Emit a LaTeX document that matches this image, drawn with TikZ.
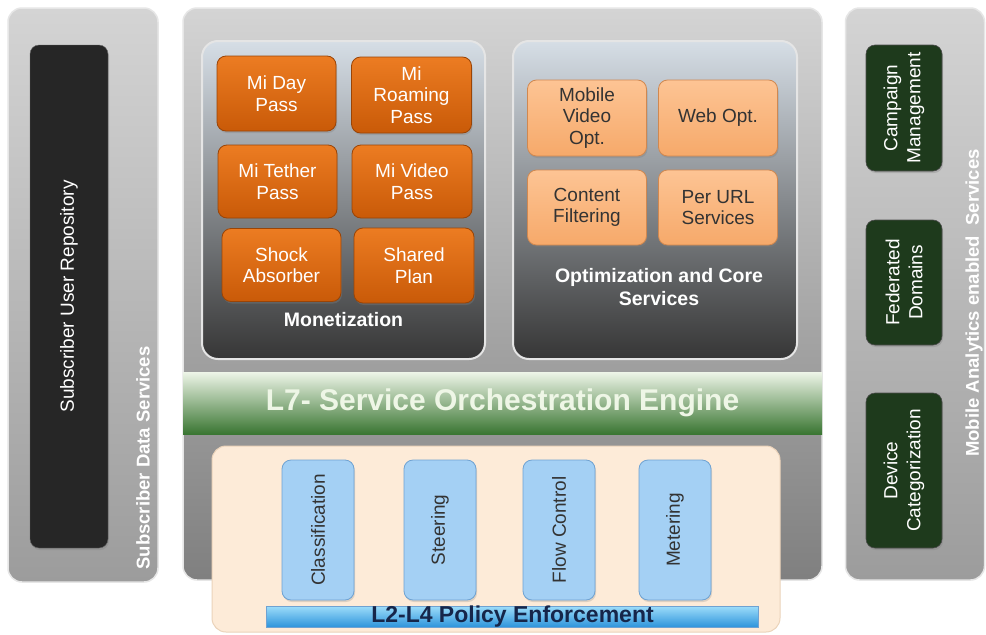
\documentclass[tikz,border=0pt]{standalone}
\usepackage{fontspec}
\setmainfont{Liberation Sans}
\usetikzlibrary{shadows}
\definecolor{panelT}{HTML}{D4D4D4}
\definecolor{panelB}{HTML}{9C9C9C}
\definecolor{panelE}{HTML}{E6E6E6}
\definecolor{darkbox}{HTML}{262626}
\definecolor{grpT}{HTML}{D6DEE6}
\definecolor{grpM}{HTML}{8E949A}
\definecolor{grpB}{HTML}{363636}
\definecolor{orT}{HTML}{EC7C22}
\definecolor{orB}{HTML}{C95A08}
\definecolor{orD}{HTML}{9A4406}
\definecolor{lorT}{HTML}{FDC494}
\definecolor{lorB}{HTML}{F6A96A}
\definecolor{lorD}{HTML}{D08850}
\definecolor{grnT}{HTML}{EEF5E8}
\definecolor{grnM}{HTML}{8CB482}
\definecolor{grnB}{HTML}{3A7632}
\definecolor{grnText}{HTML}{EEF6E6}
\definecolor{beige}{HTML}{FDEBD8}
\definecolor{beigeD}{HTML}{EBD3BA}
\definecolor{bluebox}{HTML}{A4D0F4}
\definecolor{blueD}{HTML}{6FA2D2}
\definecolor{barT}{HTML}{9CDCFA}
\definecolor{barB}{HTML}{2A92DA}
\definecolor{barText}{HTML}{16264A}
\definecolor{dgreen}{HTML}{1E3A1C}
\definecolor{txtdark}{HTML}{333333}
\begin{document}
\begin{tikzpicture}[x=1pt,y=-1pt,
  panel/.style={rounded corners=14pt, draw=panelE, line width=1.5pt, top color=panelT, bottom color=panelB, minimum width=#1},
  group/.style={rounded corners=16pt, draw=white!80!gray, line width=2pt, top color=grpT, middle color=grpM, bottom color=grpB},
  orbox/.style={rounded corners=9pt, top color=orT, bottom color=orB, draw=orD, line width=0.8pt, text=white, align=center,
    inner sep=1pt, font=\fontsize{19}{21.5}\selectfont, drop shadow={opacity=0.35, shadow xshift=1pt, shadow yshift=-2pt}},
  lorbox/.style={rounded corners=9pt, top color=lorT, bottom color=lorB, draw=lorD, line width=0.8pt, text=txtdark, align=center,
    inner sep=1pt, font=\fontsize{19}{21.5}\selectfont, drop shadow={opacity=0.35, shadow xshift=1pt, shadow yshift=-2pt}},
  bluebx/.style={rounded corners=9pt, fill=bluebox, draw=blueD, line width=0.8pt, minimum width=72pt, minimum height=140pt,
    drop shadow={opacity=0.25, shadow xshift=1pt, shadow yshift=-2pt}},
  dgbox/.style={rounded corners=9pt, fill=dgreen, draw=black!70, line width=0.6pt, minimum width=76pt,
    drop shadow={opacity=0.35, shadow xshift=1pt, shadow yshift=-2pt}},
  rotw/.style={rotate=90, text=white, align=center, font=\fontsize{19}{23}\selectfont},
  rotd/.style={rotate=90, text=txtdark, align=center, font=\fontsize{19}{23}\selectfont},
  grplabel/.style={text=white, align=center, font=\bfseries\fontsize{19.5}{23}\selectfont},
  sidelabel/.style={rotate=90, text=white, font=\bfseries\fontsize{18.5}{21}\selectfont}
]
\useasboundingbox (0,0) rectangle (986,635);
\fill[white] (0,0) rectangle (986,635);

% ---------- left panel ----------
\node[panel=150pt, minimum height=574pt] (left) at (83,295) {};
\node[rounded corners=9pt, fill=darkbox, draw=black!60, minimum width=78pt, minimum height=503pt,
  drop shadow={opacity=0.35, shadow xshift=1pt, shadow yshift=-2pt}] (sur) at (69,296.5) {};
\node[rotw] (surT) at (sur.center) {Subscriber User Repository};
\node[sidelabel] (sds) at (143,458) {Subscriber Data Services};

% ---------- middle panel ----------
\node[panel=639pt, minimum height=572pt, bottom color=black!50] (mid) at (502.5,294) {};

\node[group, minimum width=283pt, minimum height=318pt] (mon) at (343.5,200) {};
\node[group, minimum width=284pt, minimum height=318pt] (opt) at (655,200) {};

\node[orbox, minimum width=119pt, minimum height=75pt] (day) at (276.5,93.5) {Mi Day\\Pass};
\node[orbox, minimum width=120pt, minimum height=76pt] (roam) at (411.5,95) {Mi\\Roaming\\Pass};
\node[orbox, minimum width=119pt, minimum height=73pt] (teth) at (277.5,181.5) {Mi Tether\\Pass};
\node[orbox, minimum width=120pt, minimum height=73pt] (vid) at (412,181.5) {Mi Video\\Pass};
\node[orbox, minimum width=119pt, minimum height=73pt] (shock) at (281.5,265) {Shock\\Absorber};
\node[orbox, minimum width=120pt, minimum height=75pt] (shared) at (414,265.5) {Shared\\Plan};
\node[grplabel] (monT) at (343.5,320) {Monetization};

\node[lorbox, minimum width=119pt, minimum height=76pt] (mvo) at (587,118) {Mobile\\Video\\Opt.};
\node[lorbox, minimum width=119pt, minimum height=76pt] (web) at (718,118) {Web Opt.};
\node[lorbox, minimum width=119pt, minimum height=75pt] (cf) at (587,207.5) {Content\\Filtering};
\node[lorbox, minimum width=119pt, minimum height=75pt] (url) at (718,207.5) {Per URL\\Services};
\node[grplabel] (optT) at (659,287) {Optimization and Core\\Services};

% ---------- L7 bar ----------
\node[top color=grnT, middle color=grnM, bottom color=grnB, minimum width=639pt, minimum height=62pt,
  text=grnText, font=\bfseries\fontsize{30}{34}\selectfont] (l7) at (502.5,403) {L7- Service Orchestration Engine};

% ---------- L2-L4 area ----------
\node[rounded corners=14pt, fill=beige, draw=beigeD, line width=1pt, minimum width=568pt, minimum height=186pt] (pe) at (496,539) {};
\node[bluebx] (cls) at (318,530) {};
\node[rotd] (clsT) at (cls.center) {Classification};
\node[bluebx] (ste) at (440,530) {};
\node[rotd] (steT) at (ste.center) {Steering};
\node[bluebx] (flo) at (559,530) {};
\node[rotd] (floT) at (flo.center) {Flow Control};
\node[bluebx] (met) at (675,530) {};
\node[rotd] (metT) at (met.center) {Metering};
\node[top color=barT, bottom color=barB, draw=blueD, line width=0.6pt, minimum width=492pt, minimum height=21pt, inner sep=0pt,
  text=barText, font=\bfseries\fontsize{23}{25}\selectfont] (bar) at (512.5,617) {L2-L4 Policy Enforcement};

% ---------- right panel ----------
\node[panel=139pt, minimum height=572pt] (right) at (915,294) {};
\node[dgbox, minimum height=126pt] (camp) at (904,108) {};
\node[rotw] (campT) at (camp.center) {Campaign\\Management};
\node[dgbox, minimum height=125pt] (fed) at (904,282.5) {};
\node[rotw] (fedT) at (fed.center) {Federated\\Domains};
\node[dgbox, minimum height=155pt] (dev) at (904,470.5) {};
\node[rotw] (devT) at (dev.center) {Device\\Categorization};
\node[sidelabel] (mas) at (974,303) {Mobile Analytics enabled\ \ Services};
\end{tikzpicture}
\end{document}
